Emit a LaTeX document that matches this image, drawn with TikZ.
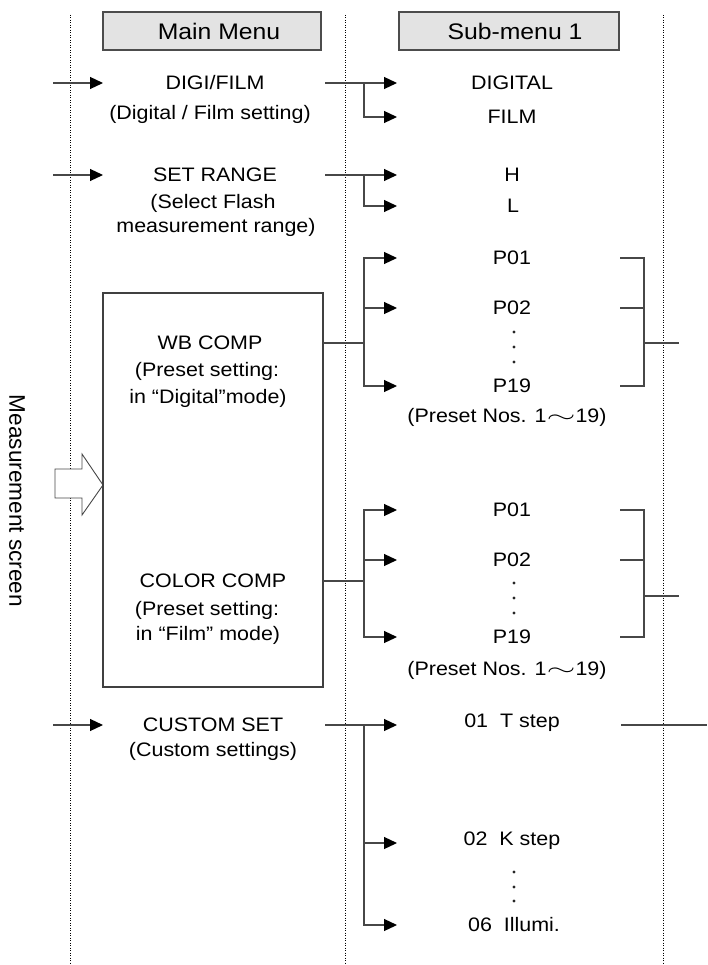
\documentclass[tikz,border=0pt]{standalone}
\usepackage{fontspec}
\usepackage{graphicx}
\setmainfont{Liberation Sans}[FakeStretch=1.1]
\newfontfamily\plainsans{Liberation Sans}
\usetikzlibrary{arrows.meta}
\begin{document}
\begin{tikzpicture}[x=1pt,y=-1pt,
  txt/.style={font=\fontsize{19.5}{22}\selectfont, inner sep=0pt, anchor=mid, text=black},
  ctxt/.style={txt, anchor=center},
  hdr/.style={font=\fontsize{22.5}{26}\selectfont, inner sep=0pt, anchor=center, text=black},
  ln/.style={draw=black!72, line width=1.2pt},
  arr/.style={ln, -{Triangle[length=13pt,width=12pt,color=black]}},
  dotline/.style={draw=black, line width=0.9pt, dash pattern=on 0.9pt off 1.6pt},
  hbox/.style={draw=black!70, fill=black!11, line width=1.2pt},
  bigbox/.style={draw=black!75, line width=1.4pt},
  dot/.style={fill=black!85, draw=none}
]
\useasboundingbox (0,0) rectangle (707,965);

% dotted column separators
\draw[dotline] (70,15) -- (70,965);
\draw[dotline] (345,15) -- (345,965);
\draw[dotline] (663,15) -- (663,965);

% headers
\draw[hbox] (103,12) rectangle (321,50);
\node[hdr] (hmain) at (219,31) {Main Menu};
\draw[hbox] (399,12) rectangle (619,50);
\node[hdr] (hsub) at (515,31) {Sub-menu 1};

% left label and big arrow
\node[rotate=-90, font=\plainsans\fontsize{22.6}{26}\selectfont, inner sep=0pt, text=black] (ms) at (17,501) {Measurement screen};
\draw[draw=black!72, fill=white, line width=0.9pt] (55,469) -- (82,469) -- (82,454) -- (103,485) -- (82,515) -- (82,498) -- (55,498) -- cycle;

% WB / COLOR box
\draw[bigbox] (103,293) rectangle (323,687);

% main menu texts
\node[ctxt] (digi) at (215,83) {DIGI/FILM};
\node[txt] (digisub) at (210,117) {(Digital / Film setting)};
\node[ctxt] (setr) at (215,175) {SET RANGE};
\node[txt] (setr1) at (213,206) {(Select Flash};
\node[txt] (setr2) at (216,230) {measurement range)};
\node[ctxt] (wb) at (210,343) {WB COMP};
\node[txt] (wb1) at (207,374) {(Preset setting:};
\node[txt] (wb2) at (208,401) {in “Digital”mode)};
\node[ctxt] (cc) at (213,581) {COLOR COMP};
\node[txt] (cc1) at (207,613) {(Preset setting:};
\node[txt] (cc2) at (208,638) {in “Film” mode)};
\node[ctxt] (cs) at (213,725) {CUSTOM SET};
\node[txt] (cs1) at (213,754) {(Custom settings)};

% sub menu texts
\node[ctxt] (sdig) at (512,83) {DIGITAL};
\node[ctxt] (sfilm) at (512,117) {FILM};
\node[ctxt] (sh) at (512,175) {H};
\node[ctxt] (sl) at (513,206) {L};
\node[ctxt] (wp1) at (512,258) {P01};
\node[ctxt] (wp2) at (512,308) {P02};
\node[ctxt] (wp19) at (512,386) {P19};
\node[txt] (wpn) at (507,420) {(Preset Nos. 1\scalebox{1.8}[1]{$\sim$}19)};
\node[ctxt] (cp1) at (512,510) {P01};
\node[ctxt] (cp2) at (512,560) {P02};
\node[ctxt] (cp19) at (512,637) {P19};
\node[txt] (cpn) at (507,673) {(Preset Nos. 1\scalebox{1.8}[1]{$\sim$}19)};
\node[txt] (t01) at (512,725) {01\ \ T step};
\node[txt] (k02) at (512,843) {02\ \ K step};
\node[ctxt] (i06) at (514,925) {06\ \ Illumi.};

% vertical ellipses
\foreach \yy in {332,347,362,583,598,613,872,887,901}
  \fill[dot] (514,\yy) circle (1.7pt);

% input arrows
\coordinate (inD) at (53,83);   \coordinate (inDt) at (103,83);
\coordinate (inS) at (53,175);  \coordinate (inSt) at (103,175);
\coordinate (inC) at (53,725);  \coordinate (inCt) at (103,725);
\draw[arr] (inD) -- (inDt);
\draw[arr] (inS) -- (inSt);
\draw[arr] (inC) -- (inCt);

% DIGI/FILM branches
\coordinate (dO) at (325,83); \coordinate (dB) at (364,83);
\coordinate (dT1) at (397,83); \coordinate (dT2) at (397,117);
\draw[arr] (dO) -- (dT1);
\draw[arr] (dB) |- (dT2);

% SET RANGE branches
\coordinate (sO) at (325,175); \coordinate (sB) at (364,175);
\coordinate (sT1) at (397,175); \coordinate (sT2) at (397,206);
\draw[arr] (sO) -- (sT1);
\draw[arr] (sB) |- (sT2);

% WB COMP branches
\coordinate (wO) at (323,343); \coordinate (wB) at (364,343);
\coordinate (wB2) at (364,308);
\coordinate (wT1) at (397,258); \coordinate (wT2) at (397,308); \coordinate (wT3) at (397,386);
\draw[ln] (wO) -- (wB);
\draw[arr] (wB) |- (wT1);
\draw[arr] (wB) |- (wT3);
\draw[arr] (wB2) -- (wT2);
% WB bracket
\coordinate (wr1) at (620,258); \coordinate (wr2) at (620,308); \coordinate (wr3) at (620,386);
\coordinate (wrv2) at (644,308); \coordinate (wrj) at (644,343); \coordinate (wrE) at (679,343);
\draw[ln] (wr1) -| (wrj) |- (wr3);
\draw[ln] (wr2) -- (wrv2);
\draw[ln] (wrj) -- (wrE);

% COLOR COMP branches
\coordinate (cO) at (323,581); \coordinate (cB) at (364,581);
\coordinate (cB2) at (364,560);
\coordinate (cT1) at (397,510); \coordinate (cT2) at (397,560); \coordinate (cT3) at (397,637);
\draw[ln] (cO) -- (cB);
\draw[arr] (cB) |- (cT1);
\draw[arr] (cB) |- (cT3);
\draw[arr] (cB2) -- (cT2);
% COLOR bracket
\coordinate (cr1) at (620,510); \coordinate (cr2) at (620,560); \coordinate (cr3) at (620,637);
\coordinate (crv2) at (644,560); \coordinate (crj) at (644,596); \coordinate (crE) at (679,596);
\draw[ln] (cr1) -| (crj) |- (cr3);
\draw[ln] (cr2) -- (crv2);
\draw[ln] (crj) -- (crE);

% CUSTOM SET branches
\coordinate (uO) at (325,725); \coordinate (uB) at (364,725);
\coordinate (uB2) at (364,843);
\coordinate (uT1) at (397,725); \coordinate (uT2) at (397,843); \coordinate (uT3) at (397,925);
\draw[arr] (uO) -- (uT1);
\draw[arr] (uB) |- (uT3);
\draw[arr] (uB2) -- (uT2);
\coordinate (uR) at (621,725); \coordinate (uRE) at (707,725);
\draw[ln] (uR) -- (uRE);
\end{tikzpicture}
\end{document}
